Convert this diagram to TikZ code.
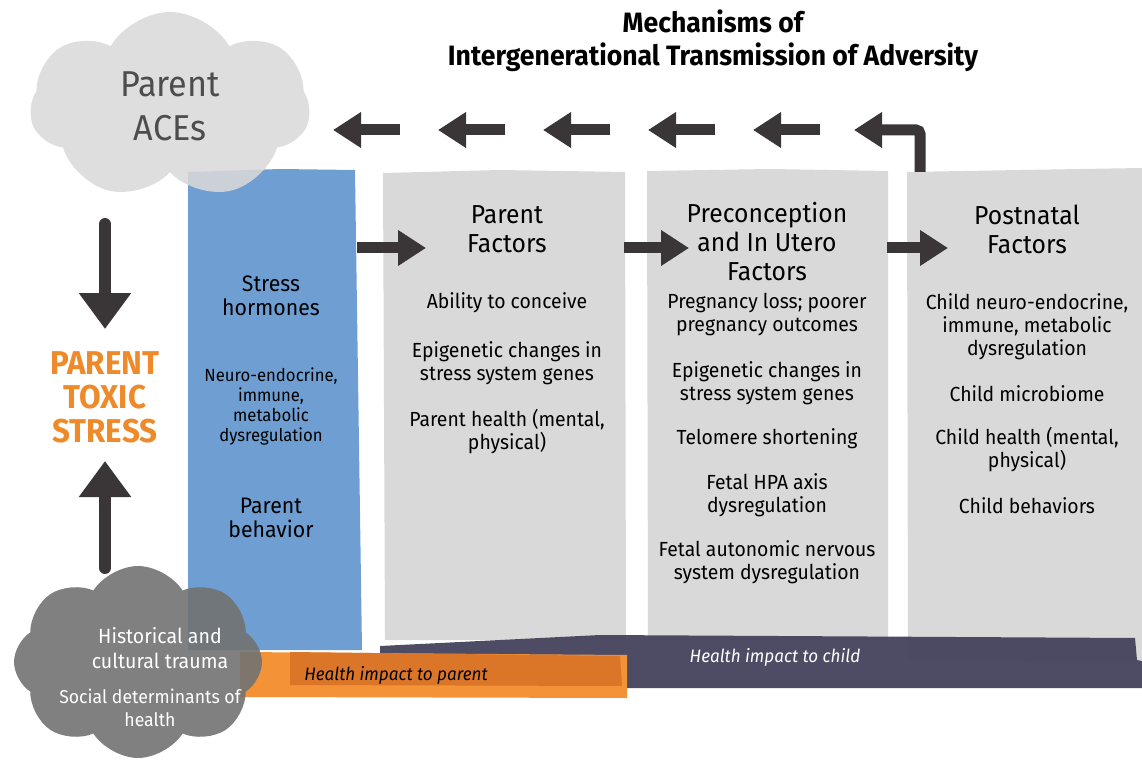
\documentclass[tikz,border=0pt]{standalone}
\usepackage{fontspec}
\setmainfont{Fira Sans}[FakeStretch=0.95]
\usetikzlibrary{shapes,arrows.meta}
\definecolor{boxgray}{HTML}{D9D9D9}
\definecolor{parentblue}{HTML}{6F9FD2}
\definecolor{childnavy}{HTML}{47465F}
\definecolor{orlight}{HTML}{F39237}
\definecolor{ordark}{HTML}{DB7628}
\definecolor{arrowgray}{HTML}{3A3637}
\definecolor{acetext}{HTML}{4D4D4D}
\definecolor{darkcloud}{HTML}{727272}
\definecolor{toxicorange}{HTML}{EE8A2A}
\tikzset{
  fat/.style={line width=5.5pt,color=arrowgray,-{Triangle[length=14pt,width=17pt]}},
  fatv/.style={line width=6pt,color=arrowgray,line cap=round,-{Triangle[length=18pt,width=25pt]}},
  item/.style={align=center,font=\fontsize{10.2}{11.5}\selectfont},
  head/.style={align=center,font=\fontsize{13}{14.5}\selectfont},
}
\begin{document}
\begin{tikzpicture}[x=0.5pt,y=-0.5pt]
\useasboundingbox (0,0) rectangle (1142,765);
\fill[boxgray] (383,173) -- (500,170) -- (625,172) -- (626,640) -- (385,640) -- cycle;
\fill[boxgray] (647,171) -- (770,169) -- (888,171) -- (888,640) -- (648,640) -- cycle;
\fill[boxgray] (907,172) -- (1020,170) -- (1142,168) -- (1142,662) -- (908,660) -- cycle;
\fill[parentblue] (188,172) -- (280,169) -- (355,170) -- (362,650) -- (188,650) -- cycle;
\fill[childnavy,opacity=0.97] (380,646) -- (600,635) -- (1135,638) -- (1137,660) -- (1142,661) -- (1142,688) -- (380,688) -- cycle;
\fill[orlight] (240,652) -- (627,655) -- (627,698) -- (240,697) -- cycle;
\fill[ordark] (290,652) -- (620,656) -- (622,686) -- (290,685) -- cycle;
\node[cloud,cloud puffs=7,cloud puff arc=120,fill=boxgray,fill opacity=0.88,text opacity=1,minimum width=140pt,minimum height=94pt,text=acetext,align=center,font=\fontsize{18}{22}\selectfont] (aces) at (170,106) {Parent\\ACEs};
\node[cloud,cloud puffs=8,cloud puff arc=115,fill=darkcloud,fill opacity=0.9,minimum width=124pt,minimum height=96pt] (trauma) at (138,662) {};
\node[text=white,align=center,font=\fontsize{10.3}{12.5}\selectfont] (hist) at (160,648) {Historical and\\cultural trauma};
\node[text=white,align=center,font=\fontsize{9.3}{11.5}\selectfont] (sdoh) at (150,708) {Social determinants of\\health};
\node[align=center,font=\bfseries\fontsize{14}{16.5}\selectfont] (title) at (713,41) {Mechanisms of\\Intergenerational Transmission of Adversity};
\node[text=toxicorange,align=center,font=\bfseries\fontsize{16.5}{17}\selectfont] (toxic) at (105,397) {PARENT\\TOXIC\\STRESS};
\node[align=center,font=\fontsize{11.2}{12}\selectfont] (hormones) at (271,296) {Stress\\hormones};
\node[align=center,font=\fontsize{8.8}{10}\selectfont] (dysreg) at (271,407) {Neuro-endocrine,\\immune,\\metabolic\\dysregulation};
\node[align=center,font=\fontsize{11.2}{12}\selectfont] (behav) at (271,518) {Parent\\behavior};
\node[head] (pfhead) at (507,229) {Parent\\Factors};
\node[item] (conceive) at (507,303) {Ability to conceive};
\node[item] (epi1) at (507,363) {Epigenetic changes in\\stress system genes};
\node[item] (phealth) at (507,432) {Parent health (mental,\\physical)};
\node[head] (puhead) at (767,242) {Preconception\\and In Utero\\Factors};
\node[item] (loss) at (767,315) {Pregnancy loss; poorer\\pregnancy outcomes};
\node[item] (epi2) at (767,383) {Epigenetic changes in\\stress system genes};
\node[item] (telo) at (767,439) {Telomere shortening};
\node[item] (hpa) at (767,495) {Fetal HPA axis\\dysregulation};
\node[item] (ans) at (767,562) {Fetal autonomic nervous\\system dysregulation};
\node[head] (pnhead) at (1027,229) {Postnatal\\Factors};
\node[item] (cneuro) at (1027,327) {Child neuro-endocrine,\\immune, metabolic\\dysregulation};
\node[item] (micro) at (1027,394) {Child microbiome};
\node[item] (chealth) at (1027,450) {Child health (mental,\\physical)};
\node[item] (cbehav) at (1027,506) {Child behaviors};
\node[font=\itshape\fontsize{9}{11}\selectfont] (toparent) at (396,675) {Health impact to parent};
\node[text=white,font=\itshape\fontsize{9}{11}\selectfont] (tochild) at (775,657) {Health impact to child};
\coordinate (r0) at (357,248);
\coordinate (r1) at (426,248);
\coordinate (r2) at (624,248);
\coordinate (r3) at (689,248);
\coordinate (r4) at (887,248);
\coordinate (r5) at (948,248);
\draw[fat] (r0) -- (r1);
\draw[fat] (r2) -- (r3);
\draw[fat] (r4) -- (r5);
\foreach \x in {400,505,610,715,820}
  \draw[fat] (\x,130) -- (\x-67,130);
\coordinate (b0) at (920,172);
\coordinate (b1) at (854,130);
\draw[fat,rounded corners=2pt] (b0) |- (b1);
\coordinate (d0) at (105,224);
\coordinate (d1) at (105,329);
\coordinate (u0) at (105,568);
\coordinate (u1) at (105,461);
\draw[fatv] (d0) -- (d1);
\draw[fatv] (u0) -- (u1);
\end{tikzpicture}
\end{document}
